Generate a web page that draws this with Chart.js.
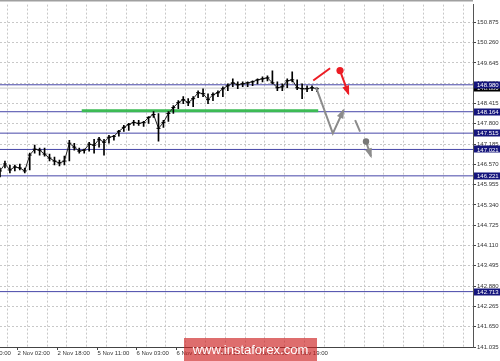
<!DOCTYPE html>
<html>
<head>
<meta charset="utf-8">
<script src="https://cdn.jsdelivr.net/npm/chart.js@4/dist/chart.umd.min.js"></script>
<style>
  html, body { margin: 0; padding: 0; background: #fff; }
  #wrap { width: 500px; height: 361px; }
</style>
</head>
<body>
<div id="wrap"><canvas id="c" width="500" height="361"></canvas></div>
<script>
// czas w godzinach (0 = 2 Nov 02:00), jeden słupek na 2 godziny
const hours = [-7, -5, -3, -1, 1, 3, 5, 7, 9, 11, 13, 15, 17, 19, 21, 23, 25, 27, 29, 31,
    33, 35, 37, 39, 41, 43, 45, 47, 49, 51, 53, 55, 57, 59, 61, 63, 65, 67, 69, 71,
    73, 75, 77, 79, 81, 83, 85, 87, 89, 91, 93, 95, 97, 99, 101, 103, 105, 107, 109, 111,
    113, 115, 117, 119, 121];
const highs = [146.46, 146.67, 146.55, 146.55, 146.58, 146.46, 146.91, 147.15, 147.06, 147.06,
    146.88, 146.79, 146.70, 146.82, 147.30, 147.21, 147.06, 147.03, 147.24, 147.33,
    147.39, 147.33, 147.45, 147.45, 147.60, 147.75, 147.81, 147.90, 147.90, 147.87,
    148.02, 148.17, 148.11, 147.90, 148.17, 148.35, 148.50, 148.62, 148.56, 148.62,
    148.80, 148.86, 148.71, 148.74, 148.80, 148.92, 149.01, 149.16, 149.07, 149.07,
    149.07, 149.10, 149.16, 149.22, 149.25, 149.40, 149.07, 149.01, 149.16, 149.37,
    149.13, 149.01, 148.95, 148.95, 148.89];
const lows = [146.19, 146.46, 146.31, 146.37, 146.40, 146.31, 146.40, 146.91, 146.85, 146.82,
    146.67, 146.55, 146.52, 146.55, 146.67, 147.00, 146.91, 146.91, 146.97, 146.91,
    147.09, 146.85, 147.21, 147.30, 147.42, 147.57, 147.60, 147.75, 147.75, 147.72,
    147.81, 147.99, 147.27, 147.69, 147.87, 148.11, 148.26, 148.41, 148.35, 148.32,
    148.59, 148.62, 148.41, 148.50, 148.62, 148.62, 148.80, 148.92, 148.86, 148.92,
    148.92, 148.95, 149.01, 149.07, 149.10, 149.01, 148.80, 148.80, 148.89, 149.07,
    148.83, 148.56, 148.77, 148.80, 148.77];
const closes = [146.37, 146.58, 146.40, 146.49, 146.46, 146.37, 146.85, 147.03, 147.00, 146.88,
    146.76, 146.67, 146.61, 146.67, 147.21, 147.09, 146.97, 147.00, 147.18, 147.15,
    147.33, 147.24, 147.39, 147.42, 147.57, 147.69, 147.78, 147.84, 147.81, 147.84,
    147.99, 148.08, 147.66, 147.84, 148.11, 148.29, 148.44, 148.53, 148.44, 148.56,
    148.74, 148.71, 148.53, 148.68, 148.74, 148.86, 148.95, 149.04, 148.98, 149.01,
    149.04, 149.07, 149.13, 149.16, 149.19, 149.04, 148.89, 148.92, 149.10, 149.13,
    148.89, 148.86, 148.86, 148.89, 148.86];

const yTicks = [141.035, 141.650, 142.265, 142.880, 143.495, 144.110, 144.725, 145.340, 145.955,
    146.570, 147.185, 147.800, 148.415, 149.030, 149.645, 150.260, 150.875];
const xGridHours = [0, 8, 16, 24, 32, 40, 48, 56, 64, 72, 80, 88, 96, 104, 112, 120, 128, 136,
    144, 152, 160, 168, 176];
const xLabelHours = [-16, 0, 16, 32, 48, 64, 80, 96, 112];
const xLabels = ['1 Nov 10:00', '2 Nov 02:00', '2 Nov 18:00', '5 Nov 11:00', '6 Nov 03:00',
    '6 Nov 19:00', '7 Nov 11:00', '8 Nov 03:00', '8 Nov 19:00'];

// poziomy wsparcia / oporu
const levels = [148.980, 148.164, 147.515, 147.021, 146.221, 142.713];
const bidLevel = 148.880;
const greenLevel = 148.19;
const greenFrom = 26;
const greenTo = 121.5;

// strzałki scenariuszy
const redLine = [{ x: 119.5, y: 149.11 }, { x: 126.3, y: 149.48 }];
const redDot = [{ x: 130.3, y: 149.41 }];
const redArrow = [{ x: 130.3, y: 149.41 }, { x: 133.7, y: 148.71 }];
const grayArrow = [{ x: 120.6, y: 148.91 }, { x: 127.4, y: 147.51 }, { x: 131.7, y: 148.21 }];
const grayDash = [{ x: 136.4, y: 147.91 }, { x: 138.4, y: 147.56 }];
const grayDot = [{ x: 140.8, y: 147.26 }];
const grayArrow2 = [{ x: 140.8, y: 147.26 }, { x: 142.8, y: 146.81 }];

const X_MIN = -7, X_MAX = 184;
const Y_MIN = 141.035, Y_MAX = 151.41;
const FONT = 'Liberation Sans';
const RED = '#ec1c24';
const GRAY = '#8c8c8c';

const datasets = [];

levels.forEach(v => {
    datasets.push({
        type: 'line', data: [{ x: X_MIN, y: v }, { x: X_MAX, y: v }],
        borderColor: '#4646a8', borderWidth: 1, pointRadius: 0, order: 10
    });
});
datasets.push({
    type: 'line', data: [{ x: X_MIN, y: bidLevel }, { x: X_MAX, y: bidLevel }],
    borderColor: '#c8c8c8', borderWidth: 1, pointRadius: 0, order: 11
});
datasets.push({
    type: 'line', data: [{ x: greenFrom, y: greenLevel }, { x: greenTo, y: greenLevel }],
    borderColor: '#3dbb55', borderWidth: 3, pointRadius: 0, order: 9
});
datasets.push({
    type: 'bar', data: hours.map((h, i) => ({ x: h, y: [lows[i], highs[i]] })),
    backgroundColor: '#000', barThickness: 1, order: 2
});
datasets.push({
    type: 'line', data: hours.map((h, i) => ({ x: h, y: closes[i] })),
    borderColor: '#222', borderWidth: 1, order: 3,
    pointStyle: 'line', pointRadius: 2, pointBorderColor: '#000', pointBorderWidth: 1
});
// scenariusz czerwony
datasets.push({ type: 'line', data: redLine, borderColor: RED, borderWidth: 2, pointRadius: 0, order: 1 });
datasets.push({ type: 'line', data: redArrow, borderColor: RED, borderWidth: 2, pointRadius: 0, order: 1, arrow: RED });
datasets.push({ type: 'line', data: redDot, showLine: false, pointRadius: 3.6, pointBackgroundColor: RED, pointBorderWidth: 0, order: 0 });
// scenariusz szary
datasets.push({ type: 'line', data: grayArrow, borderColor: GRAY, borderWidth: 2, pointRadius: 0, order: 1, arrow: GRAY });
datasets.push({ type: 'line', data: grayDash, borderColor: GRAY, borderWidth: 2, pointRadius: 0, order: 1 });
datasets.push({ type: 'line', data: grayArrow2, borderColor: GRAY, borderWidth: 2, pointRadius: 0, order: 1, arrow: GRAY });
datasets.push({ type: 'line', data: grayDot, showLine: false, pointRadius: 3.2, pointBackgroundColor: '#777', pointBorderWidth: 0, order: 0 });

const mt4Plugin = {
    id: 'mt4',
    beforeDraw(chart) {
        const ctx = chart.ctx;
        ctx.save();
        ctx.fillStyle = '#fff';
        ctx.fillRect(0, 0, chart.width, chart.height);
        ctx.restore();
    },
    afterDatasetsDraw(chart) {
        const ctx = chart.ctx;
        chart.data.datasets.forEach((ds, i) => {
            if (!ds.arrow) return;
            const pts = chart.getDatasetMeta(i).data;
            const a = pts[pts.length - 2], b = pts[pts.length - 1];
            const ang = Math.atan2(b.y - a.y, b.x - a.x);
            const len = 8, half = 3.5;
            ctx.save();
            ctx.fillStyle = ds.arrow;
            ctx.beginPath();
            ctx.moveTo(b.x + Math.cos(ang) * 2, b.y + Math.sin(ang) * 2);
            ctx.lineTo(b.x - Math.cos(ang) * len + Math.sin(ang) * half, b.y - Math.sin(ang) * len - Math.cos(ang) * half);
            ctx.lineTo(b.x - Math.cos(ang) * len - Math.sin(ang) * half, b.y - Math.sin(ang) * len + Math.cos(ang) * half);
            ctx.closePath();
            ctx.fill();
            ctx.restore();
        });
    },
    afterDraw(chart) {
        const ctx = chart.ctx;
        const area = chart.chartArea;
        const xs = chart.scales.x, ys = chart.scales.y;
        ctx.save();
        // górna ramka
        ctx.fillStyle = '#a0a0a0';
        ctx.fillRect(0, 0, area.right, 1.5);

        // etykiety poziomów na osi
        ctx.font = '6px "' + FONT + '"';
        ctx.textBaseline = 'middle';
        ctx.textAlign = 'left';
        const box = (v, color) => {
            const py = ys.getPixelForValue(v);
            ctx.fillStyle = color;
            ctx.fillRect(area.right + 1, Math.round(py) - 3.5, chart.width - area.right - 1, 7);
            ctx.fillStyle = '#fff';
            ctx.fillText(v.toFixed(3), area.right + 4, py + 0.5);
        };
        box(bidLevel, '#000');
        levels.forEach(v => box(v, '#15157c'));

        // etykiety czasu
        ctx.fillStyle = '#333';
        ctx.strokeStyle = '#444';
        ctx.lineWidth = 1;
        xLabelHours.forEach((h, i) => {
            const px = Math.round(xs.getPixelForValue(h)) + 0.5;
            ctx.beginPath();
            ctx.moveTo(px, area.bottom);
            ctx.lineTo(px, area.bottom + 3);
            ctx.stroke();
            ctx.fillText(xLabels[i], px, area.bottom + 6.5);
        });

        // znak wodny
        ctx.fillStyle = 'rgba(205, 30, 30, 0.65)';
        ctx.fillRect(184, 338, 133, 23);
        ctx.fillStyle = '#fff';
        ctx.font = '13px "' + FONT + '"';
        ctx.textAlign = 'center';
        ctx.fillText('www.instaforex.com', 250.5, 350);
        ctx.restore();
    }
};

new Chart(document.getElementById('c').getContext('2d'), {
    type: 'bar',
    data: { datasets },
    options: {
        responsive: false,
        devicePixelRatio: 1,
        animation: false,
        layout: { autoPadding: false, padding: { top: 1, left: 0, right: 0, bottom: 0 } },
        plugins: { legend: { display: false }, tooltip: { enabled: false } },
        scales: {
            x: {
                type: 'linear', min: X_MIN, max: X_MAX, offset: false,
                afterBuildTicks: s => { s.ticks = xGridHours.map(v => ({ value: v })); },
                afterFit: s => { s.height = 14; },
                ticks: { display: false },
                grid: { color: '#c8c8c8', drawTicks: false },
                border: { color: '#444', dash: [2, 2] }
            },
            y: {
                position: 'right', min: Y_MIN, max: Y_MAX,
                afterBuildTicks: s => { s.ticks = yTicks.map(v => ({ value: v })); },
                afterFit: s => { s.width = 27; },
                ticks: {
                    callback: v => v.toFixed(3), color: '#333', padding: 1,
                    font: { family: FONT, size: 6 }
                },
                grid: { color: '#c8c8c8', tickColor: '#444', tickLength: 3 },
                border: { color: '#555', dash: [2, 2] }
            }
        }
    },
    plugins: [mt4Plugin]
});
</script>
</body>
</html>
